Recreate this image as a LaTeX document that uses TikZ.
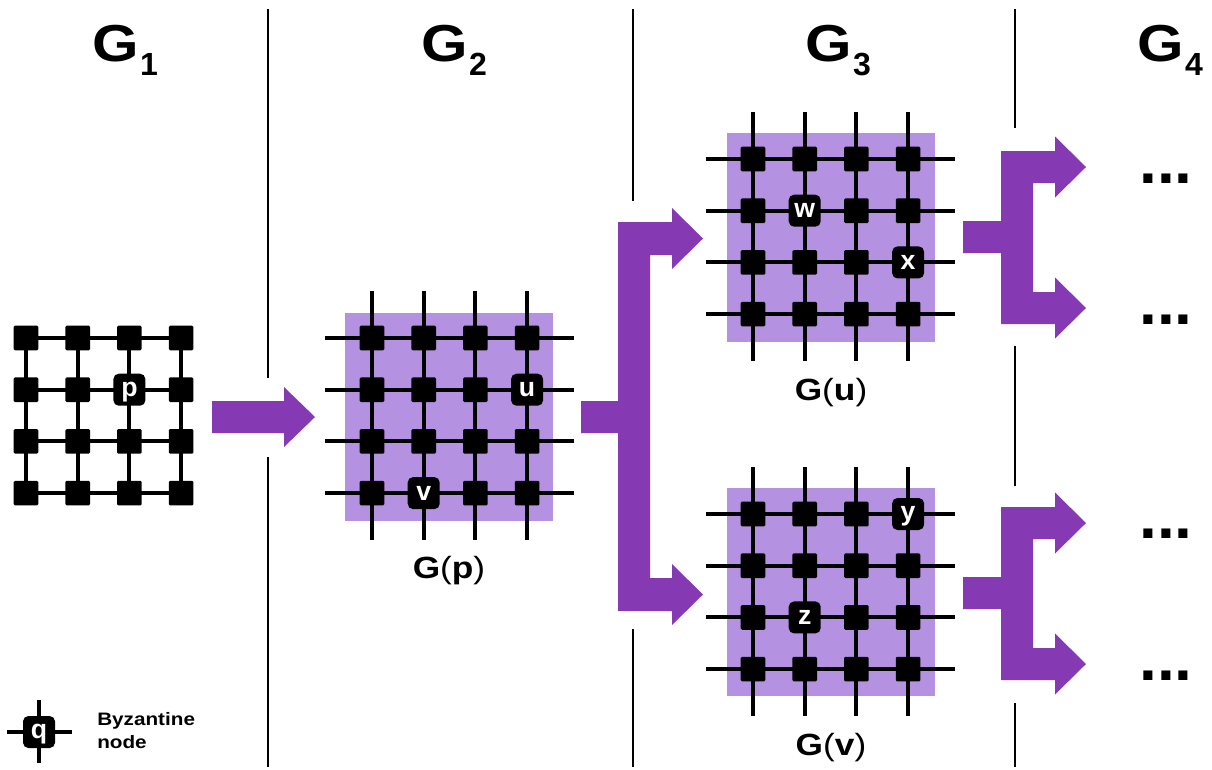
\documentclass[tikz,border=0pt]{standalone}
\usepackage{fontspec}
\setmainfont{Liberation Sans}
\newfontfamily\wide{Liberation Sans}[FakeStretch=1.15]
\usetikzlibrary{calc}
\definecolor{arrowpurple}{RGB}{133,58,180}
\definecolor{boxpurple}{RGB}{181,145,226}
\tikzset{
  bz/.style={fill=black, inner sep=0pt, minimum size=18.5pt, rounded corners=1pt},
  lt/.style={fill=black, inner sep=0pt, minimum size=24pt, rounded corners=4pt, text=white,
    font=\bfseries\fontsize{20}{20}\selectfont, text height=10.4pt, text depth=0pt},
  wire/.style={line width=3pt},
  divider/.style={line width=1.3pt},
  bigarrow/.style={fill=arrowpurple},
  panel/.style={fill=boxpurple, inner sep=0pt, minimum size=156.5pt},
  heading/.style={anchor=base west, inner sep=0pt, font=\wide\bfseries\fontsize{39}{39}\selectfont},
  sublabel/.style={anchor=base, inner sep=0pt, font=\wide\fontsize{23}{23}\selectfont},
  dots/.style={anchor=base, inner sep=0pt, font=\bfseries\fontsize{48}{48}\selectfont},
  legendtext/.style={anchor=north west, inner sep=0pt, align=left, font=\wide\bfseries\fontsize{13.5}{17.5}\selectfont}
}
\newcommand\subdigit[1]{\hspace{1pt}\raisebox{-11pt}{\normalfont\bfseries\fontsize{24}{24}\selectfont #1}}
\newcommand\meshgrid[4]{%
  \foreach \i in {0,1,2,3}{\foreach \j in {0,1,2,3}{
    \coordinate (#1c\i\j) at ({#2+51.7*\i},{#3+51.7*\j});}}
  \foreach \k in {0,1,2,3}{
    \draw[wire] ($(#1c0\k)+(-#4,0)$) -- ($(#1c3\k)+(#4,0)$);
    \draw[wire] ($(#1c\k0)+(0,-#4)$) -- ($(#1c\k3)+(0,#4)$);}
  \foreach \i in {0,1,2,3}{\foreach \j in {0,1,2,3}{
    \node[bz] (#1n\i\j) at (#1c\i\j) {};}}
}
\begin{document}
\begin{tikzpicture}[x=0.75pt,y=-0.75pt]
\useasboundingbox (0,0) rectangle (1212,769);

% dividers
\draw[divider] (268,9) -- (268,378);
\draw[divider] (268,457) -- (268,767);
\draw[divider] (633,9) -- (633,201);
\draw[divider] (633,629) -- (633,767);
\draw[divider] (1015,9) -- (1015,128);
\draw[divider] (1015,346) -- (1015,486);
\draw[divider] (1015,703) -- (1015,767);

% headings
\node[heading] (h1) at (92,61) {G\subdigit{1}};
\node[heading] (h2) at (421,61) {G\subdigit{2}};
\node[heading] (h3) at (805,61) {G\subdigit{3}};
\node[heading] (h4) at (1137,61) {G\subdigit{4}};

% G1
\meshgrid{a}{26}{338}{0}
\node[lt] (p) at (ac21) {p};

% G2
\node[panel] (P2) at (449,417) {};
\meshgrid{b}{372}{338}{47}
\node[lt] (u) at (bc31) {u};
\node[lt] (v) at (bc13) {v};
\node[sublabel] (Gp) at (449,578) {\textbf{G}(\textbf{p})};

% G3 top
\node[panel] (P3) at (831,237.5) {};
\meshgrid{c}{753}{159}{47}
\node[lt] (w) at (cc11) {w};
\node[lt] (x) at (cc32) {x};
\node[sublabel] (Gu) at (831,400) {\textbf{G}(\textbf{u})};

% G3 bottom
\node[panel] (P4) at (831,592) {};
\meshgrid{d}{753}{514}{47}
\node[lt] (y) at (dc30) {y};
\node[lt] (z) at (dc12) {z};
\node[sublabel] (Gv) at (831,755) {\textbf{G}(\textbf{v})};

% arrows
\fill[bigarrow] (212,401) -- (284,401) -- (284,387) -- (315,417) -- (284,447) -- (284,433) -- (212,433) -- cycle;
\fill[bigarrow] (581,401) -- (618,401) -- (618,222) -- (672,222) -- (672,208) -- (703,238.5) -- (672,269) -- (672,255) -- (650,255) -- (650,578) -- (672,578) -- (672,564) -- (703,594.5) -- (672,625) -- (672,611) -- (618,611) -- (618,433) -- (581,433) -- cycle;
\foreach \s in {0,356}{
\begin{scope}[shift={(0,\s)}]
\fill[bigarrow] (963,221) -- (1001,221) -- (1001,151) -- (1055,151) -- (1055,136.5) -- (1086,167) -- (1055,197.5) -- (1055,183) -- (1033,183) -- (1033,292) -- (1055,292) -- (1055,277.5) -- (1086,308) -- (1055,338.5) -- (1055,324) -- (1001,324) -- (1001,253) -- (963,253) -- cycle;
\end{scope}}

% dots
\node[dots] (d1) at (1166,183) {...};
\node[dots] (d2) at (1166,324) {...};
\node[dots] (d3) at (1166,538) {...};
\node[dots] (d4) at (1166,680) {...};

% legend
\coordinate (lq) at (39,732);
\draw[wire] ($(lq)+(-32,0)$) -- ($(lq)+(33,0)$);
\draw[wire] ($(lq)+(0,-32)$) -- ($(lq)+(0,31)$);
\node[lt] (q) at (lq) {q};
\node[legendtext] (leg) at (97,712) {Byzantine\\node};
\end{tikzpicture}
\end{document}
